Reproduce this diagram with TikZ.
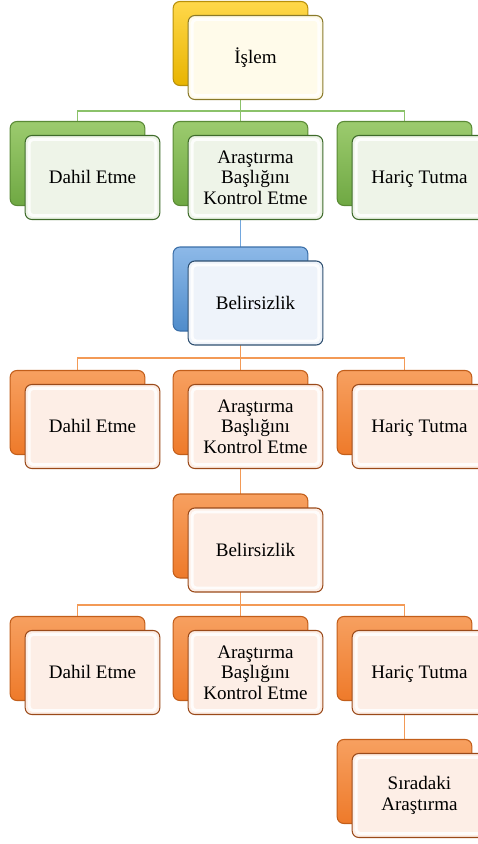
\documentclass[tikz,border=0pt]{standalone}
\usepackage{fontspec}
\setmainfont{Liberation Serif}
\definecolor{ytop}{HTML}{FFD84A}
\definecolor{ybot}{HTML}{E8B400}
\definecolor{yedge}{HTML}{B8900A}
\definecolor{yfill}{HTML}{FFFBEA}
\definecolor{yline}{HTML}{8A7A2A}
\definecolor{gtop}{HTML}{9CCB6E}
\definecolor{gbot}{HTML}{6FA843}
\definecolor{gedge}{HTML}{5A8A35}
\definecolor{gfill}{HTML}{EEF4E8}
\definecolor{gline}{HTML}{3E6B2A}
\definecolor{gconn}{HTML}{8BC26A}
\definecolor{btop}{HTML}{8DB9E8}
\definecolor{bbot}{HTML}{4F8CCB}
\definecolor{bedge}{HTML}{3B6FA8}
\definecolor{bfill}{HTML}{EEF3FA}
\definecolor{bline}{HTML}{2E4F70}
\definecolor{bconn}{HTML}{72A7DE}
\definecolor{otop}{HTML}{F7A060}
\definecolor{obot}{HTML}{EE7A2A}
\definecolor{oedge}{HTML}{C25E1A}
\definecolor{ofill}{HTML}{FDEEE6}
\definecolor{oline}{HTML}{9A4A1A}
\definecolor{oconn}{HTML}{F39A56}
\usetikzlibrary{backgrounds}

\begin{document}
\begin{tikzpicture}[
    x=0.75pt, y=-0.75pt,
    box/.style={rounded corners=5pt, minimum width=101pt, minimum height=63pt, inner sep=2pt},
    back/.style={box, thick},
    front/.style={box, thick, align=center, font=\fontsize{14.3}{15.4}\selectfont,
        path picture={\draw[white, line width=2.2pt, opacity=0.85, rounded corners=3pt]
            ([shift={(3pt,-3pt)}]path picture bounding box.north west) rectangle
            ([shift={(-3pt,3pt)}]path picture bounding box.south east);}},
    oneline/.style={text height=11pt, text depth=2pt},
    yback/.style={back, draw=yedge, top color=ytop, bottom color=ybot},
    gback/.style={back, draw=gedge, top color=gtop, bottom color=gbot},
    bback/.style={back, draw=bedge, top color=btop, bottom color=bbot},
    oback/.style={back, draw=oedge, top color=otop, bottom color=obot},
    yfront/.style={front, draw=yline, fill=yfill},
    gfront/.style={front, draw=gline, fill=gfill},
    bfront/.style={front, draw=bline, fill=bfill},
    ofront/.style={front, draw=oline, fill=ofill},
    conn/.style={line width=1.1pt}
]
    \useasboundingbox (0,0) rectangle (478,844);

    % top
    \node[yback] (islemB) at (240.5,43.5) {};
    \node[yfront, oneline] (islem) at (255.5,57.5) {İşlem};

    % first row
    \node[gback] (dahil1B) at (77.5,163.5) {};
    \node[gfront, oneline] (dahil1) at (92.5,177.5) {Dahil Etme};
    \node[gback] (kontrol1B) at (240.5,163.5) {};
    \node[gfront] (kontrol1) at (255.5,177.5) {Araştırma\\Başlığını\\Kontrol Etme};
    \node[gback] (haric1B) at (404.5,163.5) {};
    \node[gfront, oneline] (haric1) at (419.5,177.5) {Hariç Tutma};

    \node[bback] (bel1B) at (240.5,289) {};
    \node[bfront, oneline] (bel1) at (255.5,303) {Belirsizlik};

    % second row
    \node[oback] (dahil2B) at (77.5,412.5) {};
    \node[ofront, oneline] (dahil2) at (92.5,426.5) {Dahil Etme};
    \node[oback] (kontrol2B) at (240.5,412.5) {};
    \node[ofront] (kontrol2) at (255.5,426.5) {Araştırma\\Başlığını\\Kontrol Etme};
    \node[oback] (haric2B) at (404.5,412.5) {};
    \node[ofront, oneline] (haric2) at (419.5,426.5) {Hariç Tutma};

    \node[oback] (bel2B) at (240.5,536) {};
    \node[ofront, oneline] (bel2) at (255.5,550) {Belirsizlik};

    % third row
    \node[oback] (dahil3B) at (77.5,658.5) {};
    \node[ofront, oneline] (dahil3) at (92.5,672.5) {Dahil Etme};
    \node[oback] (kontrol3B) at (240.5,658.5) {};
    \node[ofront] (kontrol3) at (255.5,672.5) {Araştırma\\Başlığını\\Kontrol Etme};
    \node[oback] (haric3B) at (404.5,658.5) {};
    \node[ofront, oneline] (haric3) at (419.5,672.5) {Hariç Tutma};

    \node[oback] (siraB) at (404.5,781.5) {};
    \node[ofront] (sira) at (419.5,795.5) {Sıradaki\\Araştırma};

    \coordinate (bus1) at (240.5,111);
    \coordinate (bus2) at (240.5,358);
    \coordinate (bus3) at (240.5,605);

    \begin{scope}[on background layer]
        \draw[conn, gconn] (islemB.center) -- (kontrol1B.center);
        \draw[conn, gconn] (dahil1B.center) |- (bus1) -| (haric1B.center);
        \draw[conn, bconn] (kontrol1B.center) -- (bel1B.center);
        \draw[conn, oconn] (bel1B.center) -- (kontrol2B.center);
        \draw[conn, oconn] (dahil2B.center) |- (bus2) -| (haric2B.center);
        \draw[conn, oconn] (kontrol2B.center) -- (bel2B.center);
        \draw[conn, oconn] (bel2B.center) -- (kontrol3B.center);
        \draw[conn, oconn] (dahil3B.center) |- (bus3) -| (haric3B.center);
        \draw[conn, oconn] (haric3B.center) -- (siraB.center);
    \end{scope}
\end{tikzpicture}
\end{document}
